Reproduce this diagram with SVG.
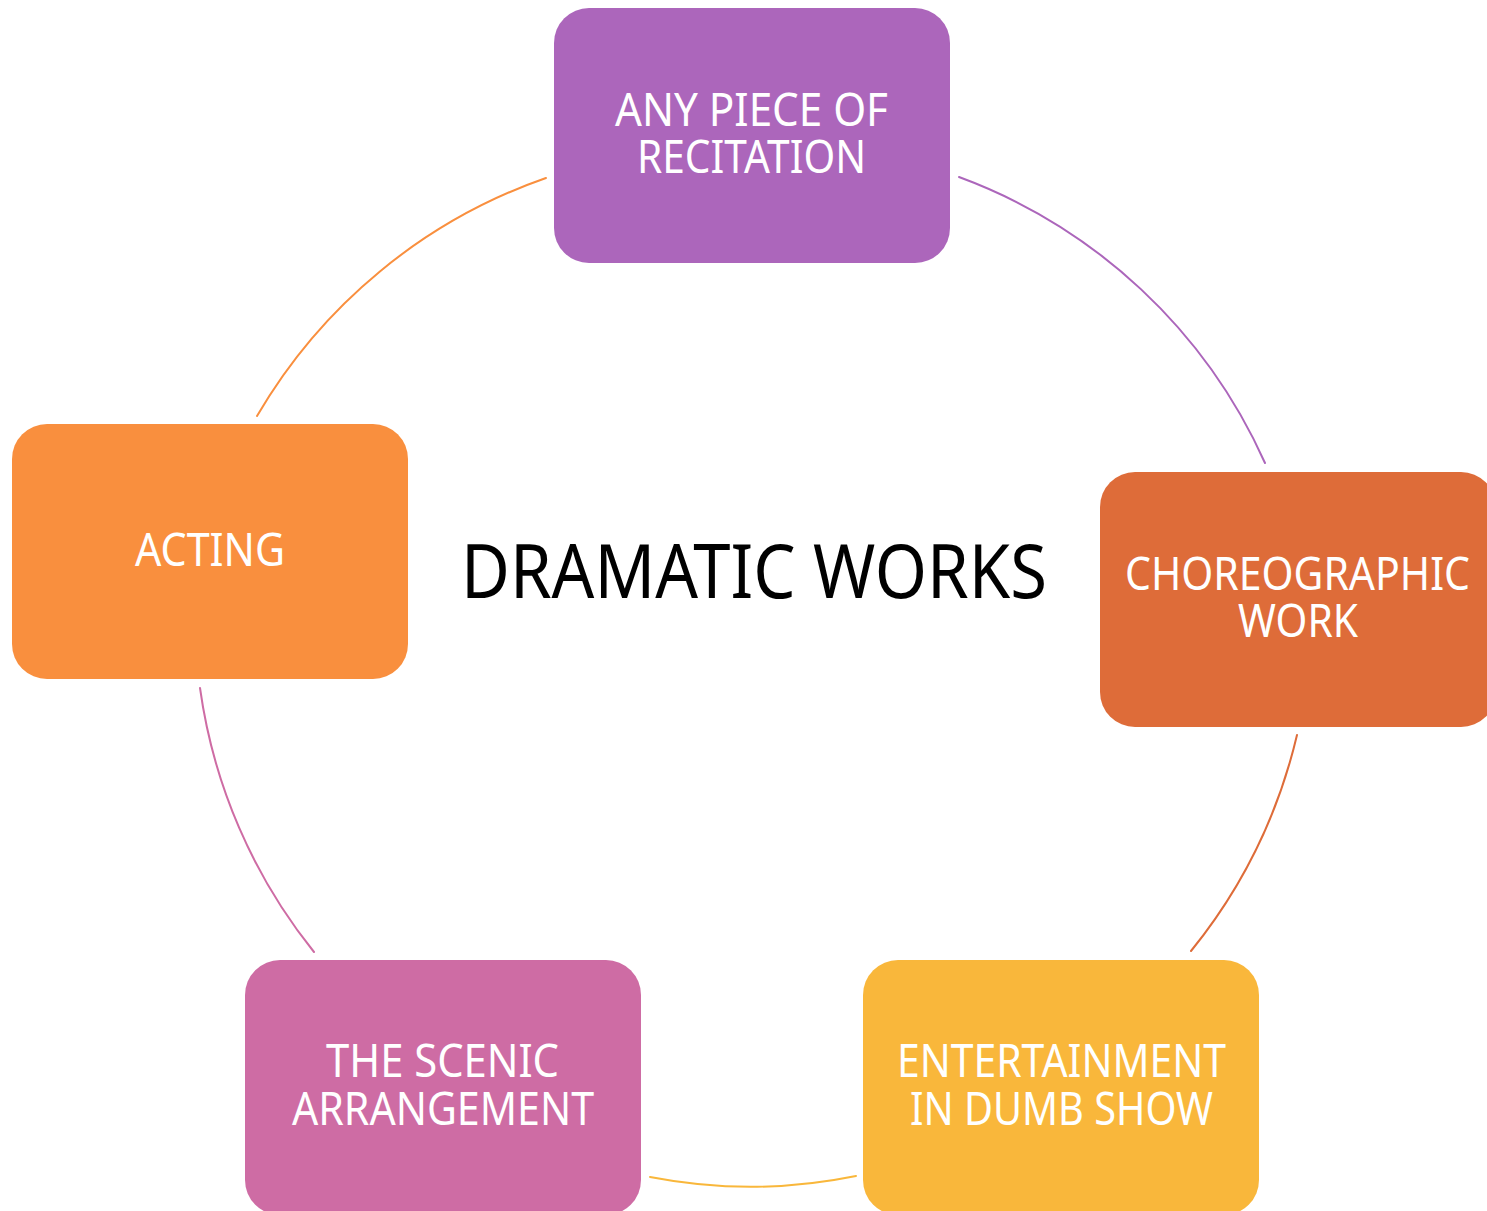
<svg xmlns="http://www.w3.org/2000/svg" width="1487" height="1211" viewBox="0 0 1487 1211">
<style>
.box{stroke:none}
.lbl{font-family:"Noto Sans","Open Sans",sans-serif;font-size:45px;fill:#FFFFFF;text-anchor:middle}
.arc{fill:none;stroke-width:2;stroke-linecap:round}
.title{font-family:"Noto Sans","Open Sans",sans-serif;font-size:74px;fill:#000000;text-anchor:middle}
</style>
<rect width="1487" height="1211" fill="#FFFFFF"/>
<g id="connectors">
<path class="arc" stroke="#AC66BB" d="M959,177 A540,540 0 0 1 1265,463"/>
<path class="arc" stroke="#DE6C39" d="M1297,735 A540,540 0 0 1 1191,951"/>
<path class="arc" stroke="#F9B73B" d="M856,1176 A526,526 0 0 1 650,1177"/>
<path class="arc" stroke="#CE6CA4" d="M314,952 A540,540 0 0 1 200,688"/>
<path class="arc" stroke="#F98F3E" d="M257,416 A540,540 0 0 1 546,178"/>
</g>
<g id="center">
<text class="title" x="754" y="598" textLength="586" lengthAdjust="spacingAndGlyphs">DRAMATIC WORKS</text>
</g>
<g id="node-recitation">
<rect class="box" x="554" y="8" width="396" height="255" rx="35" fill="#AC66BB"/>
<text class="lbl" x="751.5" y="126" textLength="273" lengthAdjust="spacingAndGlyphs">ANY PIECE OF</text>
<text class="lbl" x="751.5" y="173" textLength="229" lengthAdjust="spacingAndGlyphs">RECITATION</text>
</g>
<g id="node-choreographic">
<rect class="box" x="1100" y="472" width="396" height="255" rx="35" fill="#DE6C39"/>
<text class="lbl" x="1297.5" y="590" textLength="345" lengthAdjust="spacingAndGlyphs">CHOREOGRAPHIC</text>
<text class="lbl" x="1298" y="637" textLength="120" lengthAdjust="spacingAndGlyphs">WORK</text>
</g>
<g id="node-entertainment">
<rect class="box" x="863" y="960" width="396" height="255" rx="35" fill="#F9B73B"/>
<text class="lbl" x="1061.5" y="1077" textLength="329" lengthAdjust="spacingAndGlyphs">ENTERTAINMENT</text>
<text class="lbl" x="1061.5" y="1125" textLength="303" lengthAdjust="spacingAndGlyphs">IN DUMB SHOW</text>
</g>
<g id="node-scenic">
<rect class="box" x="245" y="960" width="396" height="255" rx="35" fill="#CE6CA4"/>
<text class="lbl" x="442.5" y="1077" textLength="233" lengthAdjust="spacingAndGlyphs">THE SCENIC</text>
<text class="lbl" x="443" y="1125" textLength="302" lengthAdjust="spacingAndGlyphs">ARRANGEMENT</text>
</g>
<g id="node-acting">
<rect class="box" x="12" y="424" width="396" height="255" rx="35" fill="#F98F3E"/>
<text class="lbl" x="210" y="566" textLength="150" lengthAdjust="spacingAndGlyphs">ACTING</text>
</g>
</svg>
